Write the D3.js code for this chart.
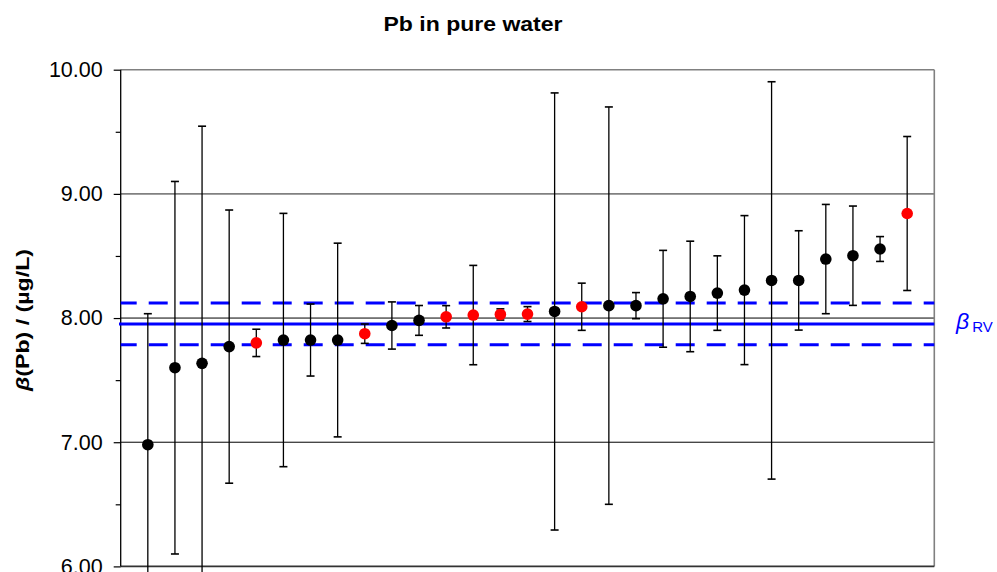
<!DOCTYPE html>
<html>
<head>
<meta charset="utf-8">
<script src="https://cdn.jsdelivr.net/npm/d3@7"></script>
<style>
  html, body { margin: 0; padding: 0; background: #fff; }
  svg { display: block; font-family: Arial, "Liberation Sans", sans-serif; }
</style>
</head>
<body>
<svg id="chart" width="997" height="572"></svg>
<script>
// ---- data ----
const participants = d3.range(1, 30);
const values = [6.98, 7.60, 7.635, 7.77, 7.80, 7.823, 7.823, 7.823, 7.874, 7.94,
                7.981, 8.01, 8.024, 8.029, 8.032, 8.053, 8.091, 8.10, 8.10, 8.155,
                8.174, 8.201, 8.225, 8.303, 8.303, 8.475, 8.502, 8.556, 8.842];
const uncertainties = [1.055, 1.50, 1.91, 1.10, 0.11, 1.02, 0.29, 0.78, 0.078, 0.19,
                       0.12, 0.09, 0.40, 0.045, 0.06, 1.76, 0.19, 1.60, 0.105, 0.39,
                       0.445, 0.30, 0.60, 1.60, 0.40, 0.44, 0.40, 0.10, 0.62];
const flagged = [0,0,0,0,1,0,0,0,1,0,0,1,1,1,1,0,1,0,0,0,0,0,0,0,0,0,0,0,1];
const refValue = 7.953;
const refU = 0.168;
const yTicks = [6, 7, 8, 9, 10];
const yMinorTicks = [6.5, 7.5, 8.5, 9.5];

// ---- layout ----
const svg = d3.select("#chart");
const pLeft = 120.7, pRight = 934.3, pTop = 69.7, pBottom = 566.4;
const x = d3.scaleLinear().domain([0, 30]).range([pLeft, pRight]);
const y = d3.scaleLinear().domain([6, 10]).range([pBottom, pTop]);

// title
svg.append("text").attr("x", 473).attr("y", 30.5)
  .attr("text-anchor", "middle").attr("font-weight", "bold").attr("font-size", 20)
  .attr("textLength", 179).attr("lengthAdjust", "spacingAndGlyphs")
  .text("Pb in pure water");

// gridlines
const gridColor = v => (v >= 9 ? "#808080" : "#000");
svg.append("g").selectAll("line").data(yTicks.filter(v => v > 6)).join("line")
  .attr("x1", pLeft).attr("x2", pRight)
  .attr("y1", d => y(d)).attr("y2", d => y(d))
  .attr("stroke", gridColor).attr("stroke-width", d => d >= 9 ? 1.6 : 1);

// right border
svg.append("line").attr("x1", pRight).attr("x2", pRight).attr("y1", pTop).attr("y2", pBottom)
  .attr("stroke", "#808080").attr("stroke-width", 1.6);
// bottom axis line
svg.append("line").attr("x1", pLeft).attr("x2", pRight).attr("y1", y(6)).attr("y2", y(6))
  .attr("stroke", "#333").attr("stroke-width", 1.6);

// y axis
const yAxis = d3.axisLeft(y).tickValues(yTicks).tickFormat(d3.format(".2f"))
  .tickSize(7).tickPadding(11);
const ya = svg.append("g").attr("transform", `translate(${pLeft},0)`).call(yAxis);
ya.select(".domain").attr("stroke", "#000").attr("stroke-width", 1.3).attr("d", `M0,${pTop}V${pBottom}`);
ya.selectAll(".tick line").attr("stroke", "#000").attr("stroke-width", 1.2);
ya.selectAll(".tick text").attr("font-size", 21.5).attr("fill", "#000")
  .attr("font-family", "Arial, 'Liberation Sans', sans-serif");
svg.append("g").attr("transform", `translate(${pLeft},0)`)
  .call(d3.axisLeft(y).tickValues(yMinorTicks).tickSize(5).tickFormat(""))
  .call(g => g.select(".domain").remove())
  .selectAll("line").attr("stroke", "#000").attr("stroke-width", 1.2);

// y label
const yl = svg.append("text").attr("transform", "translate(29,320) rotate(-90)")
  .attr("text-anchor", "middle").attr("font-weight", "bold").attr("font-size", 19)
  .attr("textLength", 142).attr("lengthAdjust", "spacingAndGlyphs");
yl.append("tspan").attr("font-style", "italic").text("β");
yl.append("tspan").text("(Pb) / (µg/L)");

// reference lines
const blue = "#0000FF";
svg.append("line").attr("x1", 119).attr("x2", pRight)
  .attr("y1", y(refValue)).attr("y2", y(refValue))
  .attr("stroke", blue).attr("stroke-width", 3);
[refValue + refU, refValue - refU].forEach(v => {
  svg.append("line").attr("x1", pLeft).attr("x2", pRight)
    .attr("y1", y(v)).attr("y2", y(v))
    .attr("stroke", blue).attr("stroke-width", 3)
    .attr("stroke-dasharray", "19,12").attr("stroke-dashoffset", 3);
});

// reference label
const rl = svg.append("text").attr("x", 956).attr("y", y(refValue) + 5).attr("fill", blue);
rl.append("tspan").attr("font-style", "italic").attr("font-size", 23).text("β");
rl.append("tspan").attr("font-size", 15).attr("dx", 3).attr("dy", 3).text("RV");

// error bars
const pts = participants.map((p, i) => ({ i: p, v: values[i], u: uncertainties[i], f: flagged[i] }));
const eb = svg.append("g").attr("stroke", "#000").attr("stroke-width", 1.3);
eb.selectAll("line.v").data(pts).join("line").attr("class", "v")
  .attr("x1", d => x(d.i)).attr("x2", d => x(d.i))
  .attr("y1", d => y(d.v + d.u)).attr("y2", d => y(d.v - d.u));
eb.selectAll("line.t").data(pts).join("line").attr("class", "t")
  .attr("x1", d => x(d.i) - 4).attr("x2", d => x(d.i) + 4)
  .attr("y1", d => y(d.v + d.u)).attr("y2", d => y(d.v + d.u)).attr("stroke-width", 1.6);
eb.selectAll("line.b").data(pts).join("line").attr("class", "b")
  .attr("x1", d => x(d.i) - 4).attr("x2", d => x(d.i) + 4)
  .attr("y1", d => y(d.v - d.u)).attr("y2", d => y(d.v - d.u)).attr("stroke-width", 1.6);

// points
svg.append("g").selectAll("circle").data(pts).join("circle")
  .attr("cx", d => x(d.i)).attr("cy", d => y(d.v)).attr("r", 5.8)
  .attr("fill", d => d.f ? "#FF0000" : "#000");
</script>
</body>
</html>
